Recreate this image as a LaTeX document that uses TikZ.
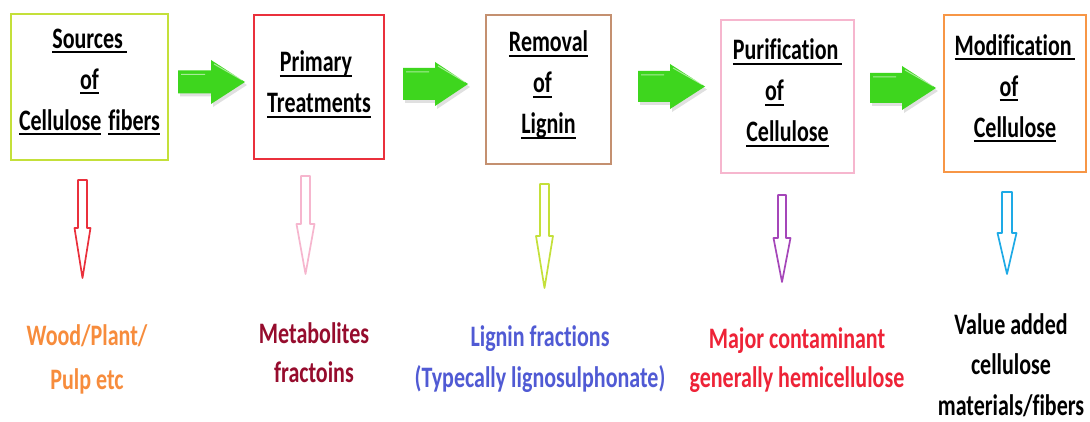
\documentclass[tikz,border=0pt]{standalone}
\usepackage{fontspec}
\setmainfont{Carlito}[Ligatures=NoCommon]
\usepackage{graphicx}
\usetikzlibrary{calc}
\definecolor{cYG}{RGB}{196,224,58}
\definecolor{cRed}{RGB}{234,48,60}
\definecolor{cBrown}{RGB}{196,144,112}
\definecolor{cPink}{RGB}{246,182,206}
\definecolor{cOrange}{RGB}{247,150,70}
\definecolor{cPurple}{RGB}{165,70,185}
\definecolor{cBlue}{RGB}{30,170,230}
\definecolor{cGreen}{RGB}{62,214,30}
\definecolor{tOrange}{RGB}{247,140,60}
\definecolor{tDark}{RGB}{150,12,45}
\definecolor{tBlue}{RGB}{80,90,212}
\definecolor{tRed}{RGB}{238,35,55}
\newcommand\ulx[1]{\setbox0\hbox{#1}\leavevmode\rlap{\rule[-3.8pt]{\wd0}{1.6pt}}\box0}
% #1 extra depth (moves text up by half), #2 content
\newcommand\boxtext[2]{\raisebox{0pt}[\height][\dimexpr\depth+#1pt\relax]{\scalebox{1}[1.35]{\fontsize{22}{30.4}\selectfont\bfseries\begin{tabular}{@{}c@{}}#2\end{tabular}}}}
\newcommand\labtext[2]{\scalebox{1}[1.35]{\fontsize{22}{#1}\selectfont\bfseries\begin{tabular}[t]{@{}c@{}}#2\end{tabular}}}
% green block arrow: start, end, half shaft, half head, head length
\newcommand\garrow[5]{%
  \fill[black,opacity=.12] let \p1=(#1), \p2=(#2) in
    ([shift={(2pt,-3pt)}]\x1,\y1+#3pt) -- ([shift={(2pt,-3pt)}]\x2-#5pt,\y1+#3pt) -- ([shift={(2pt,-3pt)}]\x2-#5pt,\y2+#4pt) -- ([shift={(2pt,-3pt)}]\x2,\y2) -- ([shift={(2pt,-3pt)}]\x2-#5pt,\y2-#4pt) -- ([shift={(2pt,-3pt)}]\x2-#5pt,\y1-#3pt) -- ([shift={(2pt,-3pt)}]\x1,\y1-#3pt) -- cycle;
  \fill[cGreen] let \p1=(#1), \p2=(#2) in
    (\x1,\y1+#3pt) -- (\x2-#5pt,\y1+#3pt) -- (\x2-#5pt,\y2+#4pt) -- (\x2,\y2) -- (\x2-#5pt,\y2-#4pt) -- (\x2-#5pt,\y1-#3pt) -- (\x1,\y1-#3pt) -- cycle;
  \draw[white,opacity=.55,line width=1pt] let \p1=(#1), \p2=(#2) in
    (\x1+3pt,\y1+#3pt-4pt) -- (\x2-#5pt-6pt,\y1+#3pt-4pt)
    (\x2-#5pt+3pt,\y2+#4pt-4pt) -- (\x2-3pt,\y2+2pt);
}
% outline down arrow: node, dx, gap, shaft length, head length, half shaft, half head, colour
\newcommand\darrow[8]{%
  \draw[#8,line width=1.7pt,line join=round,fill=white] let \p1=($(#1.south)+(#2,#3)$) in
    (\x1-#6pt,\y1) -- (\x1-#6pt,\y1-#4pt) -- (\x1-#7pt,\y1-#4pt) -- (\x1,\y1-#4pt-#5pt)
    -- (\x1+#7pt,\y1-#4pt) -- (\x1+#6pt,\y1-#4pt) -- (\x1+#6pt,\y1) -- cycle;
}
\begin{document}
\begin{tikzpicture}[x=1pt,y=-1pt,
  bx/.style={draw,line width=2pt,inner sep=0pt,fill=white},
  lab/.style={anchor=base,inner sep=0pt}]
\useasboundingbox[fill=white] (0,0) rectangle (1090,422);

\node[bx,draw=cYG,minimum width=157,minimum height=146] (b1) at (89.5,87)
  {\boxtext{12}{\ulx{Sources\,}\\ \ulx{of}\\ \ulx{Cellulose}\hspace{7pt}\ulx{fibers}}};
\node[bx,draw=cRed,minimum width=130,minimum height=144] (b2) at (319,87)
  {\boxtext{6}{\ulx{Primary}\hspace*{6pt}\\ \ulx{Treatments}}};
\node[bx,draw=cBrown,minimum width=125,minimum height=149] (b3) at (548.5,89.5)
  {\boxtext{10}{\ulx{Removal}\\ \ulx{of}\hspace*{12pt}\\ \ulx{Lignin}}};
\node[bx,draw=cPink,minimum width=133,minimum height=153] (b4) at (787.5,96.5)
  {\boxtext{8}{\ulx{Purification\,}\\ \ulx{of}\hspace*{26pt}\\ \ulx{Cellulose}}};
\node[bx,draw=cOrange,minimum width=142,minimum height=157] (b5) at (1015,93.5)
  {\boxtext{11}{\ulx{Modification\,}\\ \ulx{of}\hspace*{12pt}\\ \ulx{Cellulose}}};

\garrow{$(b1.east)+(9,-5)$}{$(b2.west)+(-8,-5)$}{11.5}{22}{34}
\garrow{$(b2.east)+(18,-3)$}{$(b3.west)+(-17,-5.5)$}{16}{22}{33}
\garrow{$(b3.east)+(26,-3)$}{$(b4.west)+(-15,-10)$}{15.5}{22.5}{35}
\garrow{$(b4.east)+(15,-8.5)$}{$(b5.west)+(-7,-5.5)$}{15}{22}{34}

\node[lab,text=tOrange] (l1) at (87,345) {\labtext{33.3}{Wood/Plant/\\Pulp etc}};
\node[lab,text=tDark] (l2) at (314,343) {\labtext{29.6}{Metabolites\\fractoins}};
\node[lab,text=tBlue] (l3) at (540,346) {\labtext{30.4}{Lignin fractions\\(Typecally lignosulphonate)}};
\node[lab,text=tRed] (l4) at (797,348) {\labtext{29.6}{Major contaminant\\generally hemicellulose}};
\node[lab,text=black] (l5) at (1011,334) {\labtext{30.2}{Value added\\cellulose\\materials/fibers}};

\darrow{b1}{-7}{19}{48}{50}{4.5}{8}{cRed}
\darrow{b2}{-13.5}{16}{48}{50}{4.5}{9}{cPink}
\darrow{b3}{-4}{19}{52}{52}{4.5}{8.5}{cYG}
\darrow{b4}{-5.5}{21}{43}{44}{4}{8.5}{cPurple}
\darrow{b5}{-8}{19}{41}{41}{5}{9.5}{cBlue}
\end{tikzpicture}
\end{document}
